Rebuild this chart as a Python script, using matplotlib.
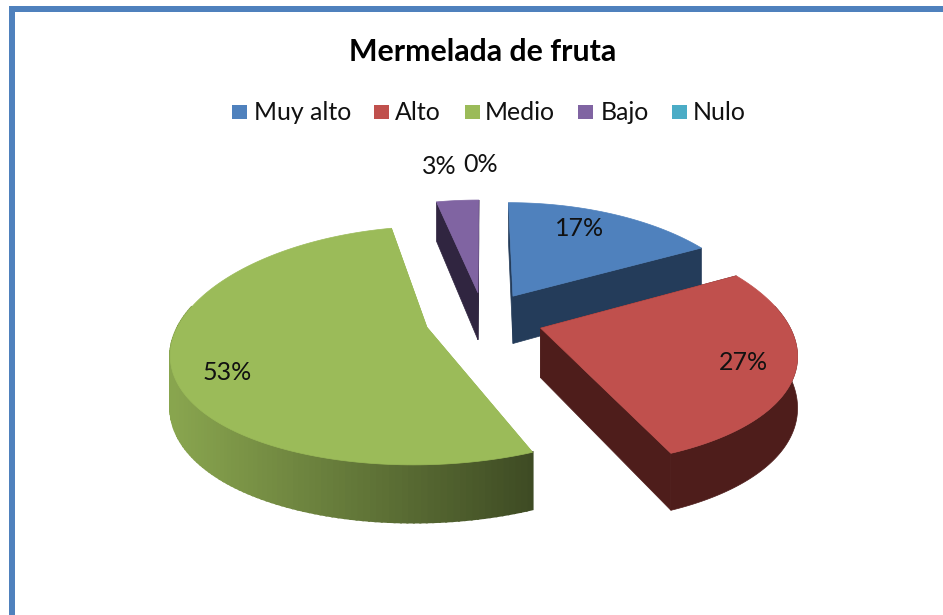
"""Exploded 3D pie, Mermelada de fruta. Drawn by hand since matplotlib has no 3D pie."""
import numpy as np
import matplotlib
matplotlib.use("Agg")
import matplotlib.pyplot as plt
from matplotlib.colors import to_rgb
from matplotlib.patches import Polygon, Rectangle

categories = ["Muy alto", "Alto", "Medio", "Bajo", "Nulo"]
percent = [17.0, 26.6, 52.9, 3.4, 0.0]
top_colors = ["#4F81BD", "#C0504D", "#9BBB59", "#8064A2", "#4BACC6"]
wall_colors = ["#243C5A", "#4E1D1B", "#9BBB59", "#302540", "#24525F"]

# pie geometry, in pixels of the 943x615 picture
CX, CY = 484, 319
RX, RY = 246, 114
PERSP_X = 0.19    # how much the far side shrinks
PERSP_Y = 0.151
DEPTH = 49        # wall height at the middle of the pie
DEPTH_SLOPE = 8   # walls get shorter towards the back
EXPLODE = 0.24

label_xy = [(580, 229), (743, 362), (227, 372), (439, 166), (481, 165)]
legend_box_x = [232, 374, 465, 578, 672]
legend_text_x = [254, 395, 485, 601, 693]

plt.rcParams["font.family"] = ["Lato", "DejaVu Sans"]


def project(u, v, drop=False):
    """Disc coordinates -> screen pixels, with some perspective."""
    wx = 1 + PERSP_X * v
    wy = 1 + PERSP_Y * v
    x = CX + RX * u / wx
    y = CY - RY * v / wy
    if drop:
        y = y + DEPTH - DEPTH_SLOPE * v
    return x, y


def shade(color, x):
    """Green wall fades from light on the left to dark on the right."""
    t = np.clip((x - 175) / (532 - 175), 0, 1)
    return tuple(c * (0.88 - 0.48 * t) for c in to_rgb(color))


def draw_slice(ax, start, end, i):
    mid = (start + end) / 2
    ou, ov = EXPLODE * np.sin(mid), EXPLODE * np.cos(mid)
    ang = np.linspace(start, end, 160)
    eu, ev = ou + np.sin(ang), ov + np.cos(ang)
    ex, ey = project(eu, ev)
    bx, by = project(eu, ev, drop=True)
    ax_, ay_ = project(ou, ov)
    dx_, dy_ = project(ou, ov, drop=True)

    # the two cut faces first, the rim and top cover whatever should be hidden
    for j in (0, -1):
        ax.add_patch(Polygon([(ax_, ay_), (ex[j], ey[j]), (bx[j], by[j]), (dx_, dy_)],
                             fc=wall_colors[i], ec=wall_colors[i], lw=0.5))
    # only the front of the rim, the back would peek out behind the top
    front = np.where(np.cos(ang) < 0.2)[0]
    if categories[i] == "Medio":
        for j in front[:-1]:
            col = shade(top_colors[i], (ex[j] + ex[j + 1]) / 2)
            ax.add_patch(Polygon([(ex[j], ey[j]), (ex[j + 1], ey[j + 1]),
                                  (bx[j + 1], by[j + 1]), (bx[j], by[j])],
                                 fc=col, ec=col, lw=1.5))
    elif len(front) > 1:
        rim = list(zip(ex[front], ey[front])) + list(zip(bx[front][::-1], by[front][::-1]))
        ax.add_patch(Polygon(rim, fc=wall_colors[i], ec=wall_colors[i], lw=0.5))
    pts = [(ax_, ay_)] + list(zip(ex, ey))
    ax.add_patch(Polygon(pts, fc=top_colors[i], ec=top_colors[i], lw=0.5))


fig = plt.figure(figsize=(9.43, 6.15), dpi=100)
ax = fig.add_axes([0, 0, 1, 1])
ax.set_xlim(0, 943)
ax.set_ylim(615, 0)
ax.axis("off")

# blue frame of the chart, cut by the right and bottom of the screenshot
ax.add_patch(Rectangle((9, 6), 6, 620, fc="#4F81BD", ec="none"))
ax.add_patch(Rectangle((9, 6), 940, 6, fc="#4F81BD", ec="none"))

edges = np.cumsum([0] + percent) / sum(percent) * 2 * np.pi
# back to front
for i in [3, 0, 1, 2]:
    draw_slice(ax, edges[i], edges[i + 1], i)

ax.text(483, 52, "Mermelada de fruta", fontsize=21.8, fontweight="bold",
        color="black", ha="center", va="center")

for i, name in enumerate(categories):
    ax.add_patch(Rectangle((legend_box_x[i], 105), 15, 14, fc=top_colors[i], ec="none"))
    ax.text(legend_text_x[i], 113, name, fontsize=17.9, color="#111111", va="center")

for (x, y), p in zip(label_xy, percent):
    ax.text(x, y, f"{p:.0f}%", fontsize=18, color="#111111", ha="center", va="center")

fig.savefig("out.png", dpi=100)
